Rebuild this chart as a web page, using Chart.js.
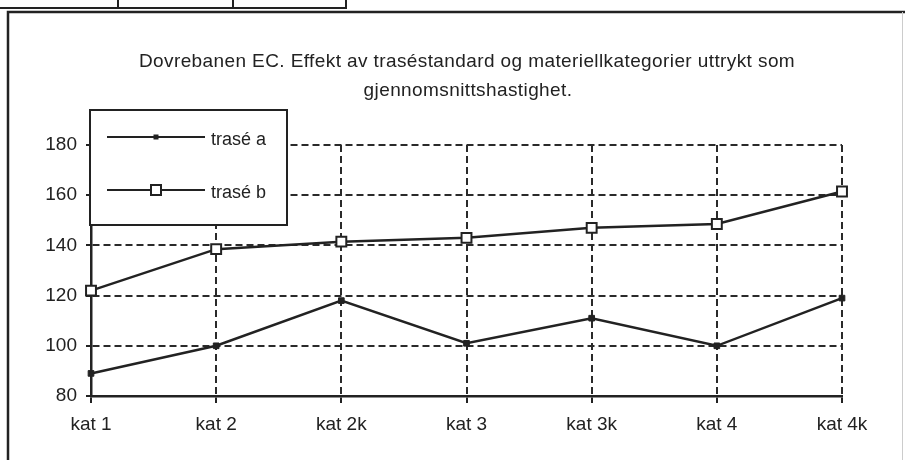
<!DOCTYPE html>
<html>
<head>
<meta charset="utf-8">
<script src="https://cdn.jsdelivr.net/npm/chart.js@4"></script>
<style>
  html, body { margin: 0; padding: 0; background: #fff; }
  canvas { display: block; }
</style>
</head>
<body>
<canvas id="chart" width="905" height="460"></canvas>
<script>
const kategorier = ["kat 1", "kat 2", "kat 2k", "kat 3", "kat 3k", "kat 4", "kat 4k"];
const traseA = [89, 100, 118, 101, 111, 100, 119];
const traseB = [122, 138.5, 141.5, 143, 147, 148.5, 161.5];
const tittel = [
  "Dovrebanen EC. Effekt av traséstandard og materiellkategorier uttrykt som",
  "gjennomsnittshastighet."
];
const serieNavn = ["trasé a", "trasé b"];

const FONT = "Liberation Sans, Arial, Helvetica, sans-serif";
const INK = "#222";

// ramme, tittel og forklaring tegnes rett paa canvas
const rammePlugin = {
  id: "ramme",
  beforeDraw(chart) {
    const ctx = chart.ctx;
    ctx.save();
    ctx.fillStyle = "#fff";
    ctx.fillRect(0, 0, chart.width, chart.height);

    ctx.strokeStyle = INK;
    ctx.lineWidth = 2;
    // rest av tabell over
    ctx.beginPath();
    ctx.moveTo(0, 8); ctx.lineTo(347, 8);
    [118, 233, 346].forEach(x => { ctx.moveTo(x, 0); ctx.lineTo(x, 8); });
    ctx.stroke();

    // ramme
    ctx.lineWidth = 2.5;
    ctx.beginPath();
    ctx.moveTo(8, 460); ctx.lineTo(8, 12); ctx.lineTo(905, 12);
    ctx.stroke();
    ctx.strokeStyle = "#ccc";
    ctx.lineWidth = 1;
    ctx.beginPath();
    ctx.moveTo(902.5, 12); ctx.lineTo(902.5, 460);
    ctx.stroke();

    // tittel
    ctx.fillStyle = INK;
    ctx.font = "19px " + FONT;
    ctx.letterSpacing = "0.4px";
    ctx.textAlign = "center";
    ctx.textBaseline = "alphabetic";
    ctx.fillText(tittel[0], 467, 67);
    ctx.fillText(tittel[1], 468, 96);
    ctx.letterSpacing = "0px";
    ctx.restore();
  },
  afterDraw(chart) {
    const ctx = chart.ctx;
    ctx.save();
    ctx.fillStyle = "#fff";
    ctx.fillRect(90, 110, 197, 115);
    ctx.strokeStyle = INK;
    ctx.lineWidth = 2;
    ctx.strokeRect(90, 110, 197, 115);

    const rader = [137, 190];
    rader.forEach((y, i) => {
      ctx.strokeStyle = INK;
      ctx.lineWidth = 2;
      ctx.beginPath();
      ctx.moveTo(107, y); ctx.lineTo(205, y);
      ctx.stroke();
      if (i === 0) {
        ctx.fillStyle = INK;
        ctx.fillRect(153.5, y - 2.5, 5, 5);
      } else {
        ctx.fillStyle = "#fff";
        ctx.fillRect(151, y - 5, 10, 10);
        ctx.strokeRect(151, y - 5, 10, 10);
      }
      ctx.fillStyle = INK;
      ctx.font = "18px " + FONT;
      ctx.textAlign = "left";
      ctx.textBaseline = "middle";
      ctx.fillText(serieNavn[i], 211, y + 3);
    });
    ctx.restore();
  }
};

new Chart(document.getElementById("chart"), {
  type: "line",
  data: {
    labels: kategorier,
    datasets: [
      {
        label: serieNavn[0],
        data: traseA,
        borderColor: INK,
        borderWidth: 2.5,
        pointStyle: "rect",
        pointRadius: 4,
        pointBackgroundColor: INK,
        pointBorderColor: INK,
        pointBorderWidth: 1,
        tension: 0,
        clip: false
      },
      {
        label: serieNavn[1],
        data: traseB,
        borderColor: INK,
        borderWidth: 2.5,
        pointStyle: "rect",
        pointRadius: 7,
        pointBackgroundColor: "#fff",
        pointBorderColor: INK,
        pointBorderWidth: 2,
        tension: 0,
        clip: false
      }
    ]
  },
  options: {
    responsive: false,
    animation: false,
    devicePixelRatio: 1,
    layout: { padding: { left: 0, top: 145, right: 63, bottom: 0 } },
    plugins: {
      legend: { display: false },
      title: { display: false },
      tooltip: { enabled: false }
    },
    scales: {
      x: {
        type: "category",
        offset: false,
        afterFit(scale) { scale.height = 64; },
        grid: {
          offset: false,
          color: "#2a2a2a",
          lineWidth: 2,
          tickLength: 7,
          tickColor: INK,
          tickWidth: 2
        },
        border: { display: true, color: INK, width: 2.5, dash: [7, 4] },
        ticks: {
          color: INK,
          font: { size: 19, family: FONT },
          padding: 10,
          maxRotation: 0,
          autoSkip: false
        }
      },
      y: {
        min: 80,
        max: 180,
        afterFit(scale) { scale.width = 91; },
        grid: {
          color: "#2a2a2a",
          lineWidth: 2,
          tickLength: 5,
          tickColor: INK,
          tickWidth: 2
        },
        border: { display: true, color: INK, width: 2.5, dash: [7, 4] },
        ticks: {
          stepSize: 20,
          color: INK,
          font: { size: 19, family: FONT },
          padding: 9
        }
      }
    }
  },
  plugins: [rammePlugin]
});
</script>
</body>
</html>
